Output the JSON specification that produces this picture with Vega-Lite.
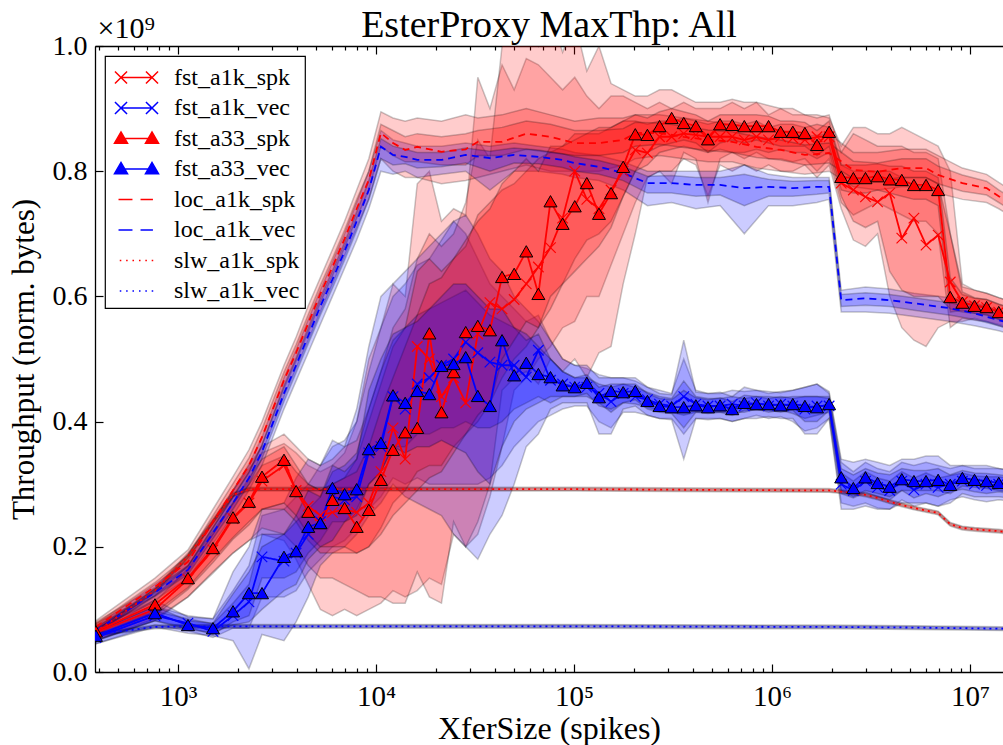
{
"$schema": "https://vega.github.io/schema/vega-lite/v6.json",
"width": 908, "height": 626,
"autosize": {"type": "none"},
"padding": {"left": 95, "top": 46, "right": 0, "bottom": 73},
"background": "white",
"title": {"text": "EsterProxy MaxThp: All", "fontSize": 38, "font": "Liberation Serif", "fontWeight": "normal", "color": "black", "offset": 0, "dy": 32},
"config": {
  "view": {"stroke": null},
  "font": "Liberation Serif",
  "axis": {"domainColor": "black", "tickColor": "black", "labelColor": "black", "titleColor": "black", "grid": false, "labelFont": "Liberation Serif", "titleFont": "Liberation Serif", "titleFontWeight": "normal", "domainWidth": 1.3, "tickWidth": 1.2, "zindex": 1, "labelFlush": false},
  "legend": {"orient": "top-left", "offset": 10, "padding": 5, "strokeColor": "black", "strokeWidth": 1.2, "fillColor": "white", "labelFont": "Liberation Serif", "labelFontSize": 24, "labelColor": "black", "symbolSize": 961, "symbolStrokeWidth": 1.5, "symbolOffset": 10, "labelOffset": 21, "rowPadding": 1.5, "cornerRadius": 0}
},
"data": {"values": [
{"s":"fst_a1k_spk","x":385,"y":0.063,"a":0.05,"b":0.078,"c":0.056,"d":0.07},
{"s":"fst_a1k_spk","x":765,"y":0.1,"a":0.082,"b":0.125,"c":0.09,"d":0.112},
{"s":"fst_a1k_spk","x":1123,"y":0.148,"a":0.12,"b":0.182,"c":0.132,"d":0.165},
{"s":"fst_a1k_spk","x":1502,"y":0.195,"a":0.158,"b":0.24,"c":0.175,"d":0.22},
{"s":"fst_a1k_spk","x":1896,"y":0.245,"a":0.19,"b":0.29,"c":0.212,"d":0.27},
{"s":"fst_a1k_spk","x":2283,"y":0.27,"a":0.21,"b":0.325,"c":0.235,"d":0.3},
{"s":"fst_a1k_spk","x":2657,"y":0.305,"a":0.22,"b":0.35,"c":0.26,"d":0.33},
{"s":"fst_a1k_spk","x":3431,"y":0.33,"a":0.21,"b":0.365,"c":0.26,"d":0.345},
{"s":"fst_a1k_spk","x":3950,"y":0.29,"a":0.18,"b":0.35,"c":0.24,"d":0.32},
{"s":"fst_a1k_spk","x":4548,"y":0.265,"a":0.14,"b":0.33,"c":0.21,"d":0.3},
{"s":"fst_a1k_spk","x":5236,"y":0.25,"a":0.1,"b":0.32,"c":0.19,"d":0.29},
{"s":"fst_a1k_spk","x":6028,"y":0.255,"a":0.09,"b":0.33,"c":0.19,"d":0.3},
{"s":"fst_a1k_spk","x":6940,"y":0.26,"a":0.1,"b":0.35,"c":0.19,"d":0.31},
{"s":"fst_a1k_spk","x":7990,"y":0.255,"a":0.09,"b":0.4,"c":0.19,"d":0.34},
{"s":"fst_a1k_spk","x":9199,"y":0.27,"a":0.1,"b":0.5,"c":0.2,"d":0.4},
{"s":"fst_a1k_spk","x":10590,"y":0.32,"a":0.11,"b":0.55,"c":0.23,"d":0.46},
{"s":"fst_a1k_spk","x":12190,"y":0.39,"a":0.13,"b":0.62,"c":0.27,"d":0.52},
{"s":"fst_a1k_spk","x":14040,"y":0.34,"a":0.12,"b":0.6,"c":0.29,"d":0.55},
{"s":"fst_a1k_spk","x":16160,"y":0.52,"a":0.13,"b":0.78,"c":0.32,"d":0.64},
{"s":"fst_a1k_spk","x":18600,"y":0.5,"a":0.15,"b":0.8,"c":0.33,"d":0.66},
{"s":"fst_a1k_spk","x":21420,"y":0.44,"a":0.14,"b":0.72,"c":0.33,"d":0.64},
{"s":"fst_a1k_spk","x":24660,"y":0.47,"a":0.22,"b":0.74,"c":0.36,"d":0.66},
{"s":"fst_a1k_spk","x":28390,"y":0.43,"a":0.2,"b":0.73,"c":0.38,"d":0.68},
{"s":"fst_a1k_spk","x":32680,"y":0.54,"a":0.22,"b":0.95,"c":0.4,"d":0.73},
{"s":"fst_a1k_spk","x":37630,"y":0.59,"a":0.28,"b":0.9,"c":0.43,"d":0.75},
{"s":"fst_a1k_spk","x":43320,"y":0.58,"a":0.36,"b":0.97,"c":0.47,"d":0.77},
{"s":"fst_a1k_spk","x":49870,"y":0.595,"a":0.45,"b":0.93,"c":0.5,"d":0.78},
{"s":"fst_a1k_spk","x":57420,"y":0.62,"a":0.47,"b":0.98,"c":0.52,"d":0.8},
{"s":"fst_a1k_spk","x":66100,"y":0.647,"a":0.5,"b":0.97,"c":0.55,"d":0.82},
{"s":"fst_a1k_spk","x":76100,"y":0.678,"a":0.52,"b":0.95,"c":0.58,"d":0.83},
{"s":"fst_a1k_spk","x":87620,"y":0.725,"a":0.55,"b":0.93,"c":0.62,"d":0.84},
{"s":"fst_a1k_spk","x":100900,"y":0.8,"a":0.56,"b":0.95,"c":0.66,"d":0.86},
{"s":"fst_a1k_spk","x":116100,"y":0.755,"a":0.6,"b":0.92,"c":0.69,"d":0.86},
{"s":"fst_a1k_spk","x":133700,"y":0.74,"a":0.6,"b":0.9,"c":0.7,"d":0.86},
{"s":"fst_a1k_spk","x":153900,"y":0.77,"a":0.65,"b":0.92,"c":0.72,"d":0.87},
{"s":"fst_a1k_spk","x":177200,"y":0.8,"a":0.7,"b":0.92,"c":0.76,"d":0.88},
{"s":"fst_a1k_spk","x":204000,"y":0.834,"a":0.75,"b":0.91,"c":0.8,"d":0.88},
{"s":"fst_a1k_spk","x":234900,"y":0.829,"a":0.79,"b":0.9,"c":0.81,"d":0.875},
{"s":"fst_a1k_spk","x":270400,"y":0.855,"a":0.8,"b":0.91,"c":0.83,"d":0.88},
{"s":"fst_a1k_spk","x":311300,"y":0.855,"a":0.8,"b":0.9,"c":0.835,"d":0.88},
{"s":"fst_a1k_spk","x":358400,"y":0.86,"a":0.82,"b":0.91,"c":0.84,"d":0.885},
{"s":"fst_a1k_spk","x":412600,"y":0.858,"a":0.81,"b":0.9,"c":0.835,"d":0.88},
{"s":"fst_a1k_spk","x":475100,"y":0.855,"a":0.76,"b":0.9,"c":0.83,"d":0.875},
{"s":"fst_a1k_spk","x":546900,"y":0.855,"a":0.81,"b":0.9,"c":0.835,"d":0.88},
{"s":"fst_a1k_spk","x":629700,"y":0.855,"a":0.8,"b":0.91,"c":0.83,"d":0.88},
{"s":"fst_a1k_spk","x":724900,"y":0.85,"a":0.81,"b":0.9,"c":0.83,"d":0.875},
{"s":"fst_a1k_spk","x":834600,"y":0.855,"a":0.8,"b":0.91,"c":0.835,"d":0.88},
{"s":"fst_a1k_spk","x":960900,"y":0.85,"a":0.81,"b":0.89,"c":0.83,"d":0.87},
{"s":"fst_a1k_spk","x":1106000,"y":0.855,"a":0.8,"b":0.9,"c":0.835,"d":0.875},
{"s":"fst_a1k_spk","x":1274000,"y":0.853,"a":0.8,"b":0.89,"c":0.83,"d":0.875},
{"s":"fst_a1k_spk","x":1466000,"y":0.85,"a":0.81,"b":0.89,"c":0.83,"d":0.87},
{"s":"fst_a1k_spk","x":1688000,"y":0.855,"a":0.79,"b":0.89,"c":0.82,"d":0.875},
{"s":"fst_a1k_spk","x":1943000,"y":0.855,"a":0.81,"b":0.885,"c":0.83,"d":0.87},
{"s":"fst_a1k_spk","x":2237000,"y":0.781,"a":0.74,"b":0.84,"c":0.76,"d":0.81},
{"s":"fst_a1k_spk","x":2576000,"y":0.77,"a":0.69,"b":0.87,"c":0.72,"d":0.8},
{"s":"fst_a1k_spk","x":2966000,"y":0.759,"a":0.68,"b":0.87,"c":0.71,"d":0.8},
{"s":"fst_a1k_spk","x":3414000,"y":0.751,"a":0.7,"b":0.86,"c":0.72,"d":0.8},
{"s":"fst_a1k_spk","x":3931000,"y":0.765,"a":0.6,"b":0.86,"c":0.64,"d":0.8},
{"s":"fst_a1k_spk","x":4525000,"y":0.693,"a":0.55,"b":0.87,"c":0.61,"d":0.79},
{"s":"fst_a1k_spk","x":5210000,"y":0.725,"a":0.53,"b":0.86,"c":0.6,"d":0.79},
{"s":"fst_a1k_spk","x":5998000,"y":0.682,"a":0.52,"b":0.85,"c":0.6,"d":0.79},
{"s":"fst_a1k_spk","x":6905000,"y":0.698,"a":0.55,"b":0.84,"c":0.6,"d":0.78},
{"s":"fst_a1k_spk","x":7950000,"y":0.623,"a":0.56,"b":0.8,"c":0.58,"d":0.7},
{"s":"fst_a1k_spk","x":9153000,"y":0.591,"a":0.56,"b":0.62,"c":0.575,"d":0.607},
{"s":"fst_a1k_spk","x":10540000,"y":0.585,"a":0.565,"b":0.61,"c":0.573,"d":0.598},
{"s":"fst_a1k_spk","x":12130000,"y":0.582,"a":0.56,"b":0.605,"c":0.57,"d":0.595},
{"s":"fst_a1k_spk","x":13970000,"y":0.575,"a":0.555,"b":0.598,"c":0.563,"d":0.588},
{"s":"fst_a1k_spk","x":16080000,"y":0.57,"a":0.55,"b":0.592,"c":0.558,"d":0.582},
{"s":"fst_a1k_vec","x":385,"y":0.055,"a":0.045,"b":0.066,"c":0.05,"d":0.06},
{"s":"fst_a1k_vec","x":765,"y":0.09,"a":0.075,"b":0.105,"c":0.082,"d":0.097},
{"s":"fst_a1k_vec","x":1123,"y":0.078,"a":0.066,"b":0.09,"c":0.071,"d":0.085},
{"s":"fst_a1k_vec","x":1502,"y":0.065,"a":0.055,"b":0.085,"c":0.06,"d":0.077},
{"s":"fst_a1k_vec","x":1896,"y":0.09,"a":0.07,"b":0.13,"c":0.08,"d":0.11},
{"s":"fst_a1k_vec","x":2283,"y":0.112,"a":0.07,"b":0.17,"c":0.09,"d":0.14},
{"s":"fst_a1k_vec","x":2657,"y":0.184,"a":0.12,"b":0.25,"c":0.15,"d":0.22},
{"s":"fst_a1k_vec","x":3431,"y":0.177,"a":0.12,"b":0.26,"c":0.15,"d":0.22},
{"s":"fst_a1k_vec","x":3950,"y":0.19,"a":0.13,"b":0.28,"c":0.16,"d":0.24},
{"s":"fst_a1k_vec","x":4548,"y":0.22,"a":0.16,"b":0.3,"c":0.19,"d":0.26},
{"s":"fst_a1k_vec","x":5236,"y":0.24,"a":0.18,"b":0.33,"c":0.21,"d":0.28},
{"s":"fst_a1k_vec","x":6028,"y":0.28,"a":0.2,"b":0.36,"c":0.24,"d":0.32},
{"s":"fst_a1k_vec","x":6940,"y":0.275,"a":0.21,"b":0.37,"c":0.24,"d":0.33},
{"s":"fst_a1k_vec","x":7990,"y":0.28,"a":0.23,"b":0.4,"c":0.26,"d":0.35},
{"s":"fst_a1k_vec","x":9199,"y":0.35,"a":0.26,"b":0.48,"c":0.3,"d":0.42},
{"s":"fst_a1k_vec","x":10590,"y":0.36,"a":0.28,"b":0.55,"c":0.32,"d":0.48},
{"s":"fst_a1k_vec","x":12190,"y":0.44,"a":0.31,"b":0.6,"c":0.36,"d":0.53},
{"s":"fst_a1k_vec","x":14040,"y":0.42,"a":0.3,"b":0.62,"c":0.36,"d":0.55},
{"s":"fst_a1k_vec","x":16160,"y":0.46,"a":0.31,"b":0.65,"c":0.38,"d":0.57},
{"s":"fst_a1k_vec","x":18600,"y":0.47,"a":0.3,"b":0.66,"c":0.38,"d":0.58},
{"s":"fst_a1k_vec","x":21420,"y":0.49,"a":0.3,"b":0.69,"c":0.39,"d":0.59},
{"s":"fst_a1k_vec","x":24660,"y":0.5,"a":0.3,"b":0.72,"c":0.39,"d":0.6},
{"s":"fst_a1k_vec","x":28390,"y":0.527,"a":0.3,"b":0.7,"c":0.4,"d":0.61},
{"s":"fst_a1k_vec","x":32680,"y":0.51,"a":0.3,"b":0.66,"c":0.39,"d":0.59},
{"s":"fst_a1k_vec","x":37630,"y":0.495,"a":0.31,"b":0.62,"c":0.39,"d":0.57},
{"s":"fst_a1k_vec","x":43320,"y":0.49,"a":0.33,"b":0.6,"c":0.4,"d":0.56},
{"s":"fst_a1k_vec","x":49870,"y":0.49,"a":0.36,"b":0.58,"c":0.42,"d":0.55},
{"s":"fst_a1k_vec","x":57420,"y":0.471,"a":0.38,"b":0.56,"c":0.43,"d":0.53},
{"s":"fst_a1k_vec","x":66100,"y":0.514,"a":0.4,"b":0.57,"c":0.44,"d":0.54},
{"s":"fst_a1k_vec","x":76100,"y":0.466,"a":0.41,"b":0.53,"c":0.43,"d":0.5},
{"s":"fst_a1k_vec","x":87620,"y":0.46,"a":0.42,"b":0.5,"c":0.44,"d":0.48},
{"s":"fst_a1k_vec","x":100900,"y":0.455,"a":0.425,"b":0.49,"c":0.44,"d":0.47},
{"s":"fst_a1k_vec","x":116100,"y":0.455,"a":0.425,"b":0.485,"c":0.44,"d":0.47},
{"s":"fst_a1k_vec","x":133700,"y":0.445,"a":0.4,"b":0.475,"c":0.43,"d":0.46},
{"s":"fst_a1k_vec","x":153900,"y":0.432,"a":0.39,"b":0.47,"c":0.415,"d":0.455},
{"s":"fst_a1k_vec","x":177200,"y":0.445,"a":0.415,"b":0.47,"c":0.43,"d":0.46},
{"s":"fst_a1k_vec","x":204000,"y":0.44,"a":0.415,"b":0.465,"c":0.428,"d":0.455},
{"s":"fst_a1k_vec","x":234900,"y":0.435,"a":0.41,"b":0.455,"c":0.423,"d":0.447},
{"s":"fst_a1k_vec","x":270400,"y":0.428,"a":0.405,"b":0.45,"c":0.418,"d":0.44},
{"s":"fst_a1k_vec","x":311300,"y":0.425,"a":0.405,"b":0.445,"c":0.415,"d":0.437},
{"s":"fst_a1k_vec","x":358400,"y":0.44,"a":0.38,"b":0.5,"c":0.41,"d":0.465},
{"s":"fst_a1k_vec","x":412600,"y":0.428,"a":0.405,"b":0.45,"c":0.415,"d":0.44},
{"s":"fst_a1k_vec","x":475100,"y":0.425,"a":0.405,"b":0.445,"c":0.415,"d":0.437},
{"s":"fst_a1k_vec","x":546900,"y":0.425,"a":0.405,"b":0.445,"c":0.415,"d":0.437},
{"s":"fst_a1k_vec","x":629700,"y":0.428,"a":0.4,"b":0.45,"c":0.415,"d":0.44},
{"s":"fst_a1k_vec","x":724900,"y":0.425,"a":0.405,"b":0.448,"c":0.415,"d":0.437},
{"s":"fst_a1k_vec","x":834600,"y":0.43,"a":0.41,"b":0.45,"c":0.42,"d":0.44},
{"s":"fst_a1k_vec","x":960900,"y":0.425,"a":0.405,"b":0.445,"c":0.415,"d":0.437},
{"s":"fst_a1k_vec","x":1106000,"y":0.428,"a":0.408,"b":0.448,"c":0.418,"d":0.44},
{"s":"fst_a1k_vec","x":1274000,"y":0.425,"a":0.4,"b":0.45,"c":0.413,"d":0.437},
{"s":"fst_a1k_vec","x":1466000,"y":0.42,"a":0.385,"b":0.455,"c":0.405,"d":0.44},
{"s":"fst_a1k_vec","x":1688000,"y":0.425,"a":0.39,"b":0.46,"c":0.41,"d":0.44},
{"s":"fst_a1k_vec","x":1943000,"y":0.425,"a":0.405,"b":0.445,"c":0.415,"d":0.437},
{"s":"fst_a1k_vec","x":2237000,"y":0.3,"a":0.27,"b":0.335,"c":0.285,"d":0.318},
{"s":"fst_a1k_vec","x":2576000,"y":0.29,"a":0.265,"b":0.32,"c":0.278,"d":0.305},
{"s":"fst_a1k_vec","x":2966000,"y":0.305,"a":0.27,"b":0.335,"c":0.287,"d":0.32},
{"s":"fst_a1k_vec","x":3414000,"y":0.295,"a":0.262,"b":0.325,"c":0.28,"d":0.31},
{"s":"fst_a1k_vec","x":3931000,"y":0.29,"a":0.26,"b":0.32,"c":0.275,"d":0.305},
{"s":"fst_a1k_vec","x":4525000,"y":0.305,"a":0.275,"b":0.335,"c":0.29,"d":0.32},
{"s":"fst_a1k_vec","x":5210000,"y":0.291,"a":0.265,"b":0.33,"c":0.278,"d":0.31},
{"s":"fst_a1k_vec","x":5998000,"y":0.3,"a":0.27,"b":0.335,"c":0.285,"d":0.318},
{"s":"fst_a1k_vec","x":6905000,"y":0.295,"a":0.265,"b":0.33,"c":0.28,"d":0.31},
{"s":"fst_a1k_vec","x":7950000,"y":0.3,"a":0.275,"b":0.325,"c":0.288,"d":0.314},
{"s":"fst_a1k_vec","x":9153000,"y":0.305,"a":0.28,"b":0.33,"c":0.292,"d":0.318},
{"s":"fst_a1k_vec","x":10540000,"y":0.3,"a":0.275,"b":0.325,"c":0.288,"d":0.313},
{"s":"fst_a1k_vec","x":12130000,"y":0.298,"a":0.272,"b":0.325,"c":0.285,"d":0.312},
{"s":"fst_a1k_vec","x":13970000,"y":0.3,"a":0.275,"b":0.325,"c":0.288,"d":0.312},
{"s":"fst_a1k_vec","x":16080000,"y":0.298,"a":0.273,"b":0.322,"c":0.285,"d":0.31},
{"s":"fst_a33_spk","x":385,"y":0.065,"a":0.05,"b":0.08,"c":0.057,"d":0.073},
{"s":"fst_a33_spk","x":765,"y":0.108,"a":0.085,"b":0.135,"c":0.095,"d":0.122},
{"s":"fst_a33_spk","x":1123,"y":0.15,"a":0.12,"b":0.19,"c":0.135,"d":0.17},
{"s":"fst_a33_spk","x":1502,"y":0.198,"a":0.16,"b":0.245,"c":0.18,"d":0.225},
{"s":"fst_a33_spk","x":1896,"y":0.247,"a":0.19,"b":0.29,"c":0.215,"d":0.27},
{"s":"fst_a33_spk","x":2283,"y":0.272,"a":0.21,"b":0.33,"c":0.24,"d":0.31},
{"s":"fst_a33_spk","x":2657,"y":0.312,"a":0.23,"b":0.36,"c":0.26,"d":0.34},
{"s":"fst_a33_spk","x":3431,"y":0.339,"a":0.22,"b":0.38,"c":0.27,"d":0.36},
{"s":"fst_a33_spk","x":3950,"y":0.289,"a":0.2,"b":0.36,"c":0.25,"d":0.33},
{"s":"fst_a33_spk","x":4548,"y":0.256,"a":0.17,"b":0.34,"c":0.22,"d":0.3},
{"s":"fst_a33_spk","x":5236,"y":0.238,"a":0.15,"b":0.33,"c":0.2,"d":0.29},
{"s":"fst_a33_spk","x":6028,"y":0.275,"a":0.15,"b":0.34,"c":0.2,"d":0.3},
{"s":"fst_a33_spk","x":6940,"y":0.262,"a":0.14,"b":0.36,"c":0.2,"d":0.31},
{"s":"fst_a33_spk","x":7990,"y":0.232,"a":0.13,"b":0.37,"c":0.19,"d":0.32},
{"s":"fst_a33_spk","x":9199,"y":0.259,"a":0.12,"b":0.42,"c":0.2,"d":0.36},
{"s":"fst_a33_spk","x":10590,"y":0.307,"a":0.12,"b":0.48,"c":0.22,"d":0.42},
{"s":"fst_a33_spk","x":12190,"y":0.355,"a":0.11,"b":0.55,"c":0.25,"d":0.47},
{"s":"fst_a33_spk","x":14040,"y":0.383,"a":0.11,"b":0.58,"c":0.27,"d":0.52},
{"s":"fst_a33_spk","x":16160,"y":0.39,"a":0.16,"b":0.66,"c":0.29,"d":0.57},
{"s":"fst_a33_spk","x":18600,"y":0.541,"a":0.12,"b":0.7,"c":0.31,"d":0.62},
{"s":"fst_a33_spk","x":21420,"y":0.415,"a":0.11,"b":0.68,"c":0.32,"d":0.63},
{"s":"fst_a33_spk","x":24660,"y":0.479,"a":0.24,"b":0.7,"c":0.35,"d":0.66},
{"s":"fst_a33_spk","x":28390,"y":0.543,"a":0.2,"b":0.75,"c":0.38,"d":0.69},
{"s":"fst_a33_spk","x":32680,"y":0.553,"a":0.24,"b":0.85,"c":0.41,"d":0.72},
{"s":"fst_a33_spk","x":37630,"y":0.546,"a":0.3,"b":0.82,"c":0.43,"d":0.74},
{"s":"fst_a33_spk","x":43320,"y":0.631,"a":0.45,"b":1.0,"c":0.5,"d":0.78},
{"s":"fst_a33_spk","x":49870,"y":0.636,"a":0.47,"b":1.05,"c":0.53,"d":0.8},
{"s":"fst_a33_spk","x":57420,"y":0.672,"a":0.48,"b":1.05,"c":0.56,"d":0.82},
{"s":"fst_a33_spk","x":66100,"y":0.604,"a":0.46,"b":1.0,"c":0.55,"d":0.8},
{"s":"fst_a33_spk","x":76100,"y":0.752,"a":0.5,"b":1.05,"c":0.6,"d":0.84},
{"s":"fst_a33_spk","x":87620,"y":0.716,"a":0.48,"b":0.99,"c":0.62,"d":0.84},
{"s":"fst_a33_spk","x":100900,"y":0.744,"a":0.5,"b":1.04,"c":0.64,"d":0.85},
{"s":"fst_a33_spk","x":116100,"y":0.781,"a":0.47,"b":0.96,"c":0.66,"d":0.86},
{"s":"fst_a33_spk","x":133700,"y":0.732,"a":0.51,"b":1.0,"c":0.68,"d":0.87},
{"s":"fst_a33_spk","x":153900,"y":0.765,"a":0.52,"b":0.94,"c":0.71,"d":0.87},
{"s":"fst_a33_spk","x":177200,"y":0.807,"a":0.62,"b":0.93,"c":0.76,"d":0.88},
{"s":"fst_a33_spk","x":204000,"y":0.859,"a":0.7,"b":0.92,"c":0.8,"d":0.89},
{"s":"fst_a33_spk","x":234900,"y":0.858,"a":0.79,"b":0.92,"c":0.83,"d":0.885},
{"s":"fst_a33_spk","x":270400,"y":0.872,"a":0.8,"b":0.93,"c":0.84,"d":0.895},
{"s":"fst_a33_spk","x":311300,"y":0.885,"a":0.78,"b":0.93,"c":0.845,"d":0.9},
{"s":"fst_a33_spk","x":358400,"y":0.877,"a":0.83,"b":0.92,"c":0.85,"d":0.895},
{"s":"fst_a33_spk","x":412600,"y":0.872,"a":0.82,"b":0.91,"c":0.845,"d":0.89},
{"s":"fst_a33_spk","x":475100,"y":0.851,"a":0.75,"b":0.91,"c":0.83,"d":0.88},
{"s":"fst_a33_spk","x":546900,"y":0.875,"a":0.82,"b":0.91,"c":0.845,"d":0.89},
{"s":"fst_a33_spk","x":629700,"y":0.874,"a":0.83,"b":0.915,"c":0.85,"d":0.89},
{"s":"fst_a33_spk","x":724900,"y":0.872,"a":0.82,"b":0.91,"c":0.845,"d":0.89},
{"s":"fst_a33_spk","x":834600,"y":0.872,"a":0.83,"b":0.91,"c":0.85,"d":0.89},
{"s":"fst_a33_spk","x":960900,"y":0.872,"a":0.82,"b":0.905,"c":0.845,"d":0.888},
{"s":"fst_a33_spk","x":1106000,"y":0.863,"a":0.82,"b":0.9,"c":0.84,"d":0.88},
{"s":"fst_a33_spk","x":1274000,"y":0.863,"a":0.815,"b":0.9,"c":0.84,"d":0.88},
{"s":"fst_a33_spk","x":1466000,"y":0.861,"a":0.82,"b":0.89,"c":0.84,"d":0.878},
{"s":"fst_a33_spk","x":1688000,"y":0.842,"a":0.8,"b":0.885,"c":0.825,"d":0.865},
{"s":"fst_a33_spk","x":1943000,"y":0.863,"a":0.82,"b":0.89,"c":0.84,"d":0.88},
{"s":"fst_a33_spk","x":2237000,"y":0.791,"a":0.75,"b":0.83,"c":0.77,"d":0.81},
{"s":"fst_a33_spk","x":2576000,"y":0.789,"a":0.73,"b":0.86,"c":0.765,"d":0.81},
{"s":"fst_a33_spk","x":2966000,"y":0.789,"a":0.74,"b":0.85,"c":0.765,"d":0.81},
{"s":"fst_a33_spk","x":3414000,"y":0.792,"a":0.75,"b":0.84,"c":0.77,"d":0.812},
{"s":"fst_a33_spk","x":3931000,"y":0.787,"a":0.74,"b":0.84,"c":0.765,"d":0.808},
{"s":"fst_a33_spk","x":4525000,"y":0.786,"a":0.73,"b":0.84,"c":0.76,"d":0.808},
{"s":"fst_a33_spk","x":5210000,"y":0.778,"a":0.72,"b":0.83,"c":0.755,"d":0.8},
{"s":"fst_a33_spk","x":5998000,"y":0.778,"a":0.72,"b":0.83,"c":0.755,"d":0.8},
{"s":"fst_a33_spk","x":6905000,"y":0.77,"a":0.7,"b":0.82,"c":0.745,"d":0.79},
{"s":"fst_a33_spk","x":7950000,"y":0.599,"a":0.55,"b":0.7,"c":0.575,"d":0.63},
{"s":"fst_a33_spk","x":9153000,"y":0.59,"a":0.565,"b":0.615,"c":0.578,"d":0.603},
{"s":"fst_a33_spk","x":10540000,"y":0.585,"a":0.562,"b":0.61,"c":0.573,"d":0.597},
{"s":"fst_a33_spk","x":12130000,"y":0.583,"a":0.56,"b":0.605,"c":0.571,"d":0.595},
{"s":"fst_a33_spk","x":13970000,"y":0.575,"a":0.553,"b":0.598,"c":0.564,"d":0.587},
{"s":"fst_a33_spk","x":16080000,"y":0.57,"a":0.548,"b":0.592,"c":0.559,"d":0.581},
{"s":"fst_a33_vec","x":385,"y":0.058,"a":0.045,"b":0.07,"c":0.051,"d":0.064},
{"s":"fst_a33_vec","x":765,"y":0.094,"a":0.072,"b":0.115,"c":0.082,"d":0.105},
{"s":"fst_a33_vec","x":1123,"y":0.075,"a":0.062,"b":0.088,"c":0.068,"d":0.082},
{"s":"fst_a33_vec","x":1502,"y":0.07,"a":0.058,"b":0.085,"c":0.063,"d":0.078},
{"s":"fst_a33_vec","x":1896,"y":0.097,"a":0.05,"b":0.16,"c":0.075,"d":0.125},
{"s":"fst_a33_vec","x":2283,"y":0.126,"a":0.005,"b":0.2,"c":0.08,"d":0.16},
{"s":"fst_a33_vec","x":2657,"y":0.126,"a":0.06,"b":0.26,"c":0.1,"d":0.2},
{"s":"fst_a33_vec","x":3431,"y":0.184,"a":0.05,"b":0.27,"c":0.13,"d":0.22},
{"s":"fst_a33_vec","x":3950,"y":0.193,"a":0.08,"b":0.31,"c":0.14,"d":0.25},
{"s":"fst_a33_vec","x":4548,"y":0.232,"a":0.12,"b":0.34,"c":0.18,"d":0.29},
{"s":"fst_a33_vec","x":5236,"y":0.238,"a":0.17,"b":0.33,"c":0.2,"d":0.28},
{"s":"fst_a33_vec","x":6028,"y":0.294,"a":0.19,"b":0.37,"c":0.21,"d":0.33},
{"s":"fst_a33_vec","x":6940,"y":0.284,"a":0.2,"b":0.36,"c":0.24,"d":0.32},
{"s":"fst_a33_vec","x":7990,"y":0.292,"a":0.22,"b":0.42,"c":0.25,"d":0.34},
{"s":"fst_a33_vec","x":9199,"y":0.356,"a":0.25,"b":0.52,"c":0.3,"d":0.45},
{"s":"fst_a33_vec","x":10590,"y":0.366,"a":0.27,"b":0.6,"c":0.32,"d":0.5},
{"s":"fst_a33_vec","x":12190,"y":0.442,"a":0.3,"b":0.62,"c":0.36,"d":0.54},
{"s":"fst_a33_vec","x":14040,"y":0.43,"a":0.28,"b":0.64,"c":0.35,"d":0.55},
{"s":"fst_a33_vec","x":16160,"y":0.449,"a":0.27,"b":0.66,"c":0.36,"d":0.56},
{"s":"fst_a33_vec","x":18600,"y":0.444,"a":0.26,"b":0.68,"c":0.36,"d":0.58},
{"s":"fst_a33_vec","x":21420,"y":0.489,"a":0.25,"b":0.7,"c":0.37,"d":0.6},
{"s":"fst_a33_vec","x":24660,"y":0.492,"a":0.22,"b":0.72,"c":0.36,"d":0.62},
{"s":"fst_a33_vec","x":28390,"y":0.503,"a":0.2,"b":0.73,"c":0.35,"d":0.62},
{"s":"fst_a33_vec","x":32680,"y":0.441,"a":0.18,"b":0.7,"c":0.32,"d":0.6},
{"s":"fst_a33_vec","x":37630,"y":0.425,"a":0.22,"b":0.66,"c":0.3,"d":0.58},
{"s":"fst_a33_vec","x":43320,"y":0.53,"a":0.25,"b":0.64,"c":0.36,"d":0.58},
{"s":"fst_a33_vec","x":49870,"y":0.474,"a":0.3,"b":0.6,"c":0.4,"d":0.55},
{"s":"fst_a33_vec","x":57420,"y":0.494,"a":0.36,"b":0.58,"c":0.42,"d":0.54},
{"s":"fst_a33_vec","x":66100,"y":0.476,"a":0.38,"b":0.56,"c":0.43,"d":0.52},
{"s":"fst_a33_vec","x":76100,"y":0.471,"a":0.42,"b":0.53,"c":0.44,"d":0.5},
{"s":"fst_a33_vec","x":87620,"y":0.458,"a":0.43,"b":0.5,"c":0.44,"d":0.48},
{"s":"fst_a33_vec","x":100900,"y":0.455,"a":0.43,"b":0.49,"c":0.44,"d":0.47},
{"s":"fst_a33_vec","x":116100,"y":0.462,"a":0.43,"b":0.49,"c":0.445,"d":0.475},
{"s":"fst_a33_vec","x":133700,"y":0.439,"a":0.38,"b":0.47,"c":0.425,"d":0.455},
{"s":"fst_a33_vec","x":153900,"y":0.449,"a":0.38,"b":0.47,"c":0.42,"d":0.46},
{"s":"fst_a33_vec","x":177200,"y":0.447,"a":0.42,"b":0.47,"c":0.43,"d":0.46},
{"s":"fst_a33_vec","x":204000,"y":0.449,"a":0.425,"b":0.47,"c":0.435,"d":0.46},
{"s":"fst_a33_vec","x":234900,"y":0.433,"a":0.41,"b":0.455,"c":0.42,"d":0.445},
{"s":"fst_a33_vec","x":270400,"y":0.425,"a":0.405,"b":0.445,"c":0.415,"d":0.437},
{"s":"fst_a33_vec","x":311300,"y":0.423,"a":0.403,"b":0.443,"c":0.413,"d":0.435},
{"s":"fst_a33_vec","x":358400,"y":0.423,"a":0.34,"b":0.53,"c":0.39,"d":0.45},
{"s":"fst_a33_vec","x":412600,"y":0.426,"a":0.405,"b":0.447,"c":0.415,"d":0.438},
{"s":"fst_a33_vec","x":475100,"y":0.423,"a":0.403,"b":0.445,"c":0.413,"d":0.435},
{"s":"fst_a33_vec","x":546900,"y":0.426,"a":0.405,"b":0.447,"c":0.415,"d":0.438},
{"s":"fst_a33_vec","x":629700,"y":0.42,"a":0.4,"b":0.44,"c":0.41,"d":0.432},
{"s":"fst_a33_vec","x":724900,"y":0.43,"a":0.405,"b":0.455,"c":0.418,"d":0.442},
{"s":"fst_a33_vec","x":834600,"y":0.428,"a":0.405,"b":0.45,"c":0.418,"d":0.44},
{"s":"fst_a33_vec","x":960900,"y":0.428,"a":0.408,"b":0.448,"c":0.418,"d":0.44},
{"s":"fst_a33_vec","x":1106000,"y":0.426,"a":0.405,"b":0.446,"c":0.415,"d":0.438},
{"s":"fst_a33_vec","x":1274000,"y":0.428,"a":0.405,"b":0.45,"c":0.418,"d":0.44},
{"s":"fst_a33_vec","x":1466000,"y":0.425,"a":0.38,"b":0.455,"c":0.4,"d":0.44},
{"s":"fst_a33_vec","x":1688000,"y":0.423,"a":0.38,"b":0.46,"c":0.4,"d":0.44},
{"s":"fst_a33_vec","x":1943000,"y":0.428,"a":0.405,"b":0.448,"c":0.418,"d":0.44},
{"s":"fst_a33_vec","x":2237000,"y":0.311,"a":0.26,"b":0.34,"c":0.29,"d":0.325},
{"s":"fst_a33_vec","x":2576000,"y":0.294,"a":0.26,"b":0.335,"c":0.28,"d":0.315},
{"s":"fst_a33_vec","x":2966000,"y":0.311,"a":0.265,"b":0.34,"c":0.29,"d":0.325},
{"s":"fst_a33_vec","x":3414000,"y":0.302,"a":0.26,"b":0.335,"c":0.285,"d":0.318},
{"s":"fst_a33_vec","x":3931000,"y":0.296,"a":0.26,"b":0.33,"c":0.28,"d":0.315},
{"s":"fst_a33_vec","x":4525000,"y":0.308,"a":0.27,"b":0.34,"c":0.29,"d":0.325},
{"s":"fst_a33_vec","x":5210000,"y":0.305,"a":0.27,"b":0.34,"c":0.29,"d":0.322},
{"s":"fst_a33_vec","x":5998000,"y":0.305,"a":0.27,"b":0.345,"c":0.29,"d":0.322},
{"s":"fst_a33_vec","x":6905000,"y":0.307,"a":0.265,"b":0.345,"c":0.29,"d":0.325},
{"s":"fst_a33_vec","x":7950000,"y":0.299,"a":0.27,"b":0.33,"c":0.285,"d":0.315},
{"s":"fst_a33_vec","x":9153000,"y":0.31,"a":0.285,"b":0.33,"c":0.297,"d":0.322},
{"s":"fst_a33_vec","x":10540000,"y":0.307,"a":0.28,"b":0.33,"c":0.295,"d":0.318},
{"s":"fst_a33_vec","x":12130000,"y":0.305,"a":0.28,"b":0.33,"c":0.293,"d":0.317},
{"s":"fst_a33_vec","x":13970000,"y":0.302,"a":0.28,"b":0.325,"c":0.29,"d":0.315},
{"s":"fst_a33_vec","x":16080000,"y":0.3,"a":0.278,"b":0.323,"c":0.288,"d":0.313},
{"s":"loc_a1k_spk","x":385,"y":0.072,"a":0.062,"b":0.082,"c":0.067,"d":0.077},
{"s":"loc_a1k_spk","x":765,"y":0.136,"a":0.122,"b":0.15,"c":0.129,"d":0.143},
{"s":"loc_a1k_spk","x":1123,"y":0.176,"a":0.16,"b":0.195,"c":0.168,"d":0.186},
{"s":"loc_a1k_spk","x":1502,"y":0.24,"a":0.22,"b":0.26,"c":0.23,"d":0.25},
{"s":"loc_a1k_spk","x":1896,"y":0.29,"a":0.268,"b":0.312,"c":0.279,"d":0.301},
{"s":"loc_a1k_spk","x":2283,"y":0.33,"a":0.305,"b":0.355,"c":0.318,"d":0.342},
{"s":"loc_a1k_spk","x":2657,"y":0.375,"a":0.35,"b":0.4,"c":0.362,"d":0.388},
{"s":"loc_a1k_spk","x":3431,"y":0.466,"a":0.44,"b":0.49,"c":0.453,"d":0.479},
{"s":"loc_a1k_spk","x":3950,"y":0.51,"a":0.485,"b":0.535,"c":0.497,"d":0.523},
{"s":"loc_a1k_spk","x":4548,"y":0.557,"a":0.53,"b":0.585,"c":0.543,"d":0.571},
{"s":"loc_a1k_spk","x":5236,"y":0.604,"a":0.575,"b":0.63,"c":0.59,"d":0.618},
{"s":"loc_a1k_spk","x":6028,"y":0.647,"a":0.62,"b":0.675,"c":0.633,"d":0.661},
{"s":"loc_a1k_spk","x":6940,"y":0.692,"a":0.665,"b":0.72,"c":0.678,"d":0.706},
{"s":"loc_a1k_spk","x":7990,"y":0.74,"a":0.71,"b":0.77,"c":0.725,"d":0.755},
{"s":"loc_a1k_spk","x":9199,"y":0.786,"a":0.755,"b":0.82,"c":0.77,"d":0.8},
{"s":"loc_a1k_spk","x":10590,"y":0.861,"a":0.82,"b":0.895,"c":0.84,"d":0.875},
{"s":"loc_a1k_spk","x":12190,"y":0.845,"a":0.8,"b":0.885,"c":0.825,"d":0.865},
{"s":"loc_a1k_spk","x":14040,"y":0.834,"a":0.79,"b":0.88,"c":0.815,"d":0.855},
{"s":"loc_a1k_spk","x":16160,"y":0.839,"a":0.79,"b":0.885,"c":0.815,"d":0.86},
{"s":"loc_a1k_spk","x":21420,"y":0.831,"a":0.78,"b":0.88,"c":0.81,"d":0.855},
{"s":"loc_a1k_spk","x":28390,"y":0.835,"a":0.785,"b":0.89,"c":0.81,"d":0.86},
{"s":"loc_a1k_spk","x":32680,"y":0.847,"a":0.79,"b":0.885,"c":0.825,"d":0.865},
{"s":"loc_a1k_spk","x":43320,"y":0.847,"a":0.8,"b":0.89,"c":0.825,"d":0.87},
{"s":"loc_a1k_spk","x":57420,"y":0.86,"a":0.81,"b":0.9,"c":0.835,"d":0.88},
{"s":"loc_a1k_spk","x":76100,"y":0.855,"a":0.8,"b":0.89,"c":0.83,"d":0.875},
{"s":"loc_a1k_spk","x":100900,"y":0.845,"a":0.8,"b":0.88,"c":0.825,"d":0.865},
{"s":"loc_a1k_spk","x":133700,"y":0.845,"a":0.8,"b":0.885,"c":0.825,"d":0.865},
{"s":"loc_a1k_spk","x":177200,"y":0.85,"a":0.81,"b":0.885,"c":0.83,"d":0.868},
{"s":"loc_a1k_spk","x":204000,"y":0.861,"a":0.82,"b":0.89,"c":0.84,"d":0.878},
{"s":"loc_a1k_spk","x":270400,"y":0.861,"a":0.825,"b":0.89,"c":0.843,"d":0.877},
{"s":"loc_a1k_spk","x":358400,"y":0.855,"a":0.82,"b":0.885,"c":0.838,"d":0.872},
{"s":"loc_a1k_spk","x":475100,"y":0.85,"a":0.815,"b":0.88,"c":0.833,"d":0.866},
{"s":"loc_a1k_spk","x":629700,"y":0.847,"a":0.815,"b":0.875,"c":0.83,"d":0.863},
{"s":"loc_a1k_spk","x":834600,"y":0.839,"a":0.805,"b":0.87,"c":0.822,"d":0.855},
{"s":"loc_a1k_spk","x":1106000,"y":0.834,"a":0.8,"b":0.865,"c":0.818,"d":0.85},
{"s":"loc_a1k_spk","x":1466000,"y":0.826,"a":0.795,"b":0.855,"c":0.81,"d":0.842},
{"s":"loc_a1k_spk","x":1943000,"y":0.829,"a":0.8,"b":0.86,"c":0.813,"d":0.845},
{"s":"loc_a1k_spk","x":2576000,"y":0.802,"a":0.775,"b":0.83,"c":0.788,"d":0.816},
{"s":"loc_a1k_spk","x":3414000,"y":0.799,"a":0.77,"b":0.83,"c":0.785,"d":0.813},
{"s":"loc_a1k_spk","x":4525000,"y":0.805,"a":0.775,"b":0.835,"c":0.79,"d":0.82},
{"s":"loc_a1k_spk","x":5998000,"y":0.805,"a":0.775,"b":0.835,"c":0.79,"d":0.82},
{"s":"loc_a1k_spk","x":6905000,"y":0.794,"a":0.765,"b":0.825,"c":0.78,"d":0.808},
{"s":"loc_a1k_spk","x":9153000,"y":0.781,"a":0.755,"b":0.805,"c":0.768,"d":0.794},
{"s":"loc_a1k_spk","x":12130000,"y":0.773,"a":0.75,"b":0.795,"c":0.762,"d":0.784},
{"s":"loc_a1k_spk","x":13970000,"y":0.76,"a":0.74,"b":0.782,"c":0.75,"d":0.77},
{"s":"loc_a1k_spk","x":16080000,"y":0.748,"a":0.728,"b":0.77,"c":0.738,"d":0.758},
{"s":"loc_a1k_vec","x":385,"y":0.066,"a":0.058,"b":0.074,"c":0.062,"d":0.07},
{"s":"loc_a1k_vec","x":765,"y":0.127,"a":0.115,"b":0.14,"c":0.121,"d":0.133},
{"s":"loc_a1k_vec","x":1123,"y":0.163,"a":0.15,"b":0.178,"c":0.156,"d":0.17},
{"s":"loc_a1k_vec","x":1502,"y":0.222,"a":0.205,"b":0.24,"c":0.213,"d":0.231},
{"s":"loc_a1k_vec","x":1896,"y":0.27,"a":0.25,"b":0.29,"c":0.26,"d":0.28},
{"s":"loc_a1k_vec","x":2283,"y":0.31,"a":0.29,"b":0.332,"c":0.3,"d":0.32},
{"s":"loc_a1k_vec","x":2657,"y":0.352,"a":0.33,"b":0.375,"c":0.341,"d":0.363},
{"s":"loc_a1k_vec","x":3431,"y":0.445,"a":0.42,"b":0.47,"c":0.432,"d":0.458},
{"s":"loc_a1k_vec","x":3950,"y":0.49,"a":0.465,"b":0.515,"c":0.478,"d":0.502},
{"s":"loc_a1k_vec","x":4548,"y":0.537,"a":0.51,"b":0.563,"c":0.524,"d":0.55},
{"s":"loc_a1k_vec","x":5236,"y":0.584,"a":0.555,"b":0.61,"c":0.57,"d":0.598},
{"s":"loc_a1k_vec","x":6028,"y":0.627,"a":0.6,"b":0.655,"c":0.613,"d":0.641},
{"s":"loc_a1k_vec","x":6940,"y":0.672,"a":0.645,"b":0.7,"c":0.658,"d":0.686},
{"s":"loc_a1k_vec","x":7990,"y":0.72,"a":0.69,"b":0.75,"c":0.705,"d":0.735},
{"s":"loc_a1k_vec","x":9199,"y":0.77,"a":0.74,"b":0.8,"c":0.755,"d":0.785},
{"s":"loc_a1k_vec","x":10590,"y":0.839,"a":0.8,"b":0.865,"c":0.82,"d":0.852},
{"s":"loc_a1k_vec","x":12190,"y":0.826,"a":0.795,"b":0.85,"c":0.81,"d":0.84},
{"s":"loc_a1k_vec","x":14040,"y":0.823,"a":0.8,"b":0.845,"c":0.812,"d":0.835},
{"s":"loc_a1k_vec","x":16160,"y":0.818,"a":0.79,"b":0.84,"c":0.805,"d":0.83},
{"s":"loc_a1k_vec","x":21420,"y":0.818,"a":0.795,"b":0.84,"c":0.807,"d":0.83},
{"s":"loc_a1k_vec","x":28390,"y":0.826,"a":0.8,"b":0.845,"c":0.813,"d":0.837},
{"s":"loc_a1k_vec","x":37630,"y":0.821,"a":0.77,"b":0.84,"c":0.8,"d":0.832},
{"s":"loc_a1k_vec","x":49870,"y":0.826,"a":0.8,"b":0.845,"c":0.813,"d":0.837},
{"s":"loc_a1k_vec","x":66100,"y":0.823,"a":0.8,"b":0.84,"c":0.812,"d":0.834},
{"s":"loc_a1k_vec","x":87620,"y":0.818,"a":0.795,"b":0.835,"c":0.806,"d":0.828},
{"s":"loc_a1k_vec","x":100900,"y":0.813,"a":0.79,"b":0.83,"c":0.8,"d":0.823},
{"s":"loc_a1k_vec","x":133700,"y":0.807,"a":0.785,"b":0.825,"c":0.795,"d":0.817},
{"s":"loc_a1k_vec","x":177200,"y":0.797,"a":0.77,"b":0.815,"c":0.785,"d":0.807},
{"s":"loc_a1k_vec","x":234900,"y":0.781,"a":0.745,"b":0.8,"c":0.765,"d":0.792},
{"s":"loc_a1k_vec","x":311300,"y":0.781,"a":0.75,"b":0.8,"c":0.765,"d":0.793},
{"s":"loc_a1k_vec","x":412600,"y":0.778,"a":0.74,"b":0.8,"c":0.76,"d":0.79},
{"s":"loc_a1k_vec","x":546900,"y":0.778,"a":0.745,"b":0.8,"c":0.762,"d":0.79},
{"s":"loc_a1k_vec","x":724900,"y":0.773,"a":0.7,"b":0.81,"c":0.745,"d":0.795},
{"s":"loc_a1k_vec","x":960900,"y":0.775,"a":0.745,"b":0.795,"c":0.76,"d":0.787},
{"s":"loc_a1k_vec","x":1274000,"y":0.773,"a":0.745,"b":0.79,"c":0.76,"d":0.784},
{"s":"loc_a1k_vec","x":1688000,"y":0.775,"a":0.75,"b":0.79,"c":0.763,"d":0.785},
{"s":"loc_a1k_vec","x":1943000,"y":0.775,"a":0.755,"b":0.79,"c":0.765,"d":0.785},
{"s":"loc_a1k_vec","x":2237000,"y":0.594,"a":0.575,"b":0.61,"c":0.584,"d":0.603},
{"s":"loc_a1k_vec","x":2966000,"y":0.597,"a":0.575,"b":0.615,"c":0.586,"d":0.606},
{"s":"loc_a1k_vec","x":3931000,"y":0.594,"a":0.573,"b":0.612,"c":0.584,"d":0.603},
{"s":"loc_a1k_vec","x":5210000,"y":0.589,"a":0.568,"b":0.605,"c":0.578,"d":0.598},
{"s":"loc_a1k_vec","x":7950000,"y":0.581,"a":0.56,"b":0.598,"c":0.57,"d":0.59},
{"s":"loc_a1k_vec","x":10540000,"y":0.573,"a":0.553,"b":0.59,"c":0.563,"d":0.582},
{"s":"loc_a1k_vec","x":13970000,"y":0.562,"a":0.545,"b":0.578,"c":0.553,"d":0.57},
{"s":"loc_a1k_vec","x":16080000,"y":0.557,"a":0.54,"b":0.573,"c":0.548,"d":0.565},
{"s":"slw_a1k_spk","x":385,"y":0.064,"a":0.061,"b":0.067,"c":0.0625,"d":0.0655},
{"s":"slw_a1k_spk","x":765,"y":0.13,"a":0.127,"b":0.133,"c":0.1285,"d":0.1315},
{"s":"slw_a1k_spk","x":1123,"y":0.185,"a":0.182,"b":0.188,"c":0.1835,"d":0.1865},
{"s":"slw_a1k_spk","x":1502,"y":0.24,"a":0.237,"b":0.243,"c":0.2385,"d":0.2415},
{"s":"slw_a1k_spk","x":1896,"y":0.283,"a":0.28,"b":0.286,"c":0.2815,"d":0.2845},
{"s":"slw_a1k_spk","x":2283,"y":0.292,"a":0.289,"b":0.295,"c":0.2905,"d":0.2935},
{"s":"slw_a1k_spk","x":10590,"y":0.292,"a":0.289,"b":0.295,"c":0.2905,"d":0.2935},
{"s":"slw_a1k_spk","x":100900,"y":0.292,"a":0.289,"b":0.295,"c":0.2905,"d":0.2935},
{"s":"slw_a1k_spk","x":1943000,"y":0.29,"a":0.287,"b":0.293,"c":0.2885,"d":0.2915},
{"s":"slw_a1k_spk","x":2237000,"y":0.288,"a":0.285,"b":0.291,"c":0.2865,"d":0.2895},
{"s":"slw_a1k_spk","x":2576000,"y":0.286,"a":0.283,"b":0.289,"c":0.2845,"d":0.2875},
{"s":"slw_a1k_spk","x":2966000,"y":0.283,"a":0.28,"b":0.286,"c":0.2815,"d":0.2845},
{"s":"slw_a1k_spk","x":3414000,"y":0.278,"a":0.275,"b":0.281,"c":0.2765,"d":0.2795},
{"s":"slw_a1k_spk","x":3931000,"y":0.272,"a":0.269,"b":0.275,"c":0.2705,"d":0.2735},
{"s":"slw_a1k_spk","x":4525000,"y":0.267,"a":0.264,"b":0.27,"c":0.2655,"d":0.2685},
{"s":"slw_a1k_spk","x":5210000,"y":0.262,"a":0.259,"b":0.265,"c":0.2605,"d":0.2635},
{"s":"slw_a1k_spk","x":5998000,"y":0.258,"a":0.255,"b":0.261,"c":0.2565,"d":0.2595},
{"s":"slw_a1k_spk","x":6905000,"y":0.254,"a":0.251,"b":0.257,"c":0.2525,"d":0.2555},
{"s":"slw_a1k_spk","x":7950000,"y":0.236,"a":0.233,"b":0.239,"c":0.2345,"d":0.2375},
{"s":"slw_a1k_spk","x":9153000,"y":0.23,"a":0.227,"b":0.233,"c":0.2285,"d":0.2315},
{"s":"slw_a1k_spk","x":10540000,"y":0.228,"a":0.225,"b":0.231,"c":0.2265,"d":0.2295},
{"s":"slw_a1k_spk","x":13970000,"y":0.225,"a":0.222,"b":0.228,"c":0.2235,"d":0.2265},
{"s":"slw_a1k_spk","x":16080000,"y":0.223,"a":0.22,"b":0.226,"c":0.2215,"d":0.2245},
{"s":"slw_a1k_vec","x":385,"y":0.06,"a":0.057,"b":0.063,"c":0.0585,"d":0.0615},
{"s":"slw_a1k_vec","x":765,"y":0.072,"a":0.069,"b":0.075,"c":0.0705,"d":0.0735},
{"s":"slw_a1k_vec","x":1123,"y":0.073,"a":0.07,"b":0.076,"c":0.0715,"d":0.0745},
{"s":"slw_a1k_vec","x":100900,"y":0.073,"a":0.07,"b":0.076,"c":0.0715,"d":0.0745},
{"s":"slw_a1k_vec","x":1943000,"y":0.072,"a":0.069,"b":0.075,"c":0.0705,"d":0.0735},
{"s":"slw_a1k_vec","x":5210000,"y":0.071,"a":0.068,"b":0.074,"c":0.0695,"d":0.0725},
{"s":"slw_a1k_vec","x":16080000,"y":0.069,"a":0.066,"b":0.072,"c":0.0675,"d":0.0705}
]},
"layer": [
  {
    "mark": {"type": "area", "fillOpacity": 0.2, "stroke": "black", "strokeOpacity": 0.22, "strokeWidth": 1.5, "clip": true},
    "encoding": {
      "x": {"field": "x", "type": "quantitative", "scale": {"type": "log", "domain": [381, 14680000], "nice": false},
        "axis": {"orient": "bottom", "values": [1000, 10000, 100000, 1000000, 10000000], "tickSize": -8, "labelExpr": "datum.value == 1000 ? '10³' : datum.value == 10000 ? '10⁴' : datum.value == 100000 ? '10⁵' : datum.value == 1000000 ? '10⁶' : '10⁷'", "labelFontSize": 29, "labelPadding": 18, "labelOverlap": false, "title": "XferSize (spikes)", "titleFontSize": 32, "titleY": 66, "titleBaseline": "alphabetic"}},
      "y": {"field": "a", "type": "quantitative", "scale": {"domain": [0, 1], "nice": false, "zero": false},
        "axis": {"orient": "left", "values": [0, 0.2, 0.4, 0.6, 0.8, 1.0], "format": ".1f", "tickSize": -8, "labelFontSize": 28, "labelPadding": 16, "title": "Throughput (norm. bytes)", "titleFontSize": 31, "titleX": -62, "titleY": 313, "titleBaseline": "alphabetic"}},
      "y2": {"field": "b"},
      "color": {"field": "s", "type": "nominal", "scale": {"domain": ["fst_a1k_spk","fst_a33_spk","loc_a1k_spk","slw_a1k_spk","fst_a1k_vec","fst_a33_vec","loc_a1k_vec","slw_a1k_vec"], "range": ["#ff0000","#ff0000","#ff0000","#ff0000","#0000ff","#0000ff","#0000ff","#0000ff"]}, "legend": null}
    }
  },
  {
    "mark": {"type": "area", "fillOpacity": 0.25, "stroke": "black", "strokeOpacity": 0.22, "strokeWidth": 1.5, "clip": true},
    "encoding": {
      "x": {"field": "x", "type": "quantitative", "scale": {"type": "log", "domain": [381, 14680000], "nice": false},
        "axis": {"orient": "bottom", "values": [400,500,600,700,800,900,2000,3000,4000,5000,6000,7000,8000,9000,20000,30000,40000,50000,60000,70000,80000,90000,200000,300000,400000,500000,600000,700000,800000,900000,2000000,3000000,4000000,5000000,6000000,7000000,8000000,9000000], "tickSize": -4, "labels": false, "domain": false, "title": null}},
      "y": {"field": "c", "type": "quantitative", "scale": {"domain": [0, 1], "nice": false, "zero": false}, "axis": null},
      "y2": {"field": "d"},
      "color": {"field": "s", "type": "nominal", "scale": {"domain": ["fst_a1k_spk","fst_a33_spk","loc_a1k_spk","slw_a1k_spk","fst_a1k_vec","fst_a33_vec","loc_a1k_vec","slw_a1k_vec"], "range": ["#ff0000","#ff0000","#ff0000","#ff0000","#0000ff","#0000ff","#0000ff","#0000ff"]}, "legend": null}
    }
  },
  {
    "mark": {"type": "line", "strokeWidth": 1.8, "clip": true},
    "encoding": {
      "x": {"field": "x", "type": "quantitative", "scale": {"type": "log", "domain": [381, 14680000], "nice": false},
        "axis": {"orient": "top", "values": [1000, 10000, 100000, 1000000, 10000000], "tickSize": -8, "labels": false, "domain": true, "title": "×10⁹", "titleFontSize": 30, "titleAngle": 0, "titleAlign": "left", "titleAnchor": "start", "titleX": 2, "titleY": -9, "titleBaseline": "alphabetic"}},
      "y": {"field": "y", "type": "quantitative", "scale": {"domain": [0, 1], "nice": false, "zero": false}, "axis": null},
      "color": {"field": "s", "type": "nominal", "scale": {"domain": ["fst_a1k_spk","fst_a33_spk","loc_a1k_spk","slw_a1k_spk","fst_a1k_vec","fst_a33_vec","loc_a1k_vec","slw_a1k_vec"], "range": ["#ff0000","#ff0000","#ff0000","#ff0000","#0000ff","#0000ff","#0000ff","#0000ff"]}, "legend": null},
      "strokeDash": {"field": "s", "type": "nominal", "scale": {"domain": ["loc_a1k_spk","loc_a1k_vec","slw_a1k_spk","slw_a1k_vec","fst_a1k_spk","fst_a1k_vec","fst_a33_spk","fst_a33_vec"], "range": [[7,5],[7,5],[2,4],[2,4],[1,0],[1,0],[1,0],[1,0]]}, "legend": null}
    }
  },
  {
    "transform": [{"filter": "datum.s == 'fst_a1k_spk' || datum.s == 'fst_a1k_vec'"}],
    "mark": {"type": "point", "shape": "M-1,-1L1,1M1,-1L-1,1", "filled": false, "size": 110, "strokeWidth": 1.2, "opacity": 1, "clip": true},
    "encoding": {
      "x": {"field": "x", "type": "quantitative", "scale": {"type": "log", "domain": [381, 14680000], "nice": false},
        "axis": {"orient": "top", "values": [400,500,600,700,800,900,2000,3000,4000,5000,6000,7000,8000,9000,20000,30000,40000,50000,60000,70000,80000,90000,200000,300000,400000,500000,600000,700000,800000,900000,2000000,3000000,4000000,5000000,6000000,7000000,8000000,9000000], "tickSize": -4, "labels": false, "domain": false, "title": null}},
      "y": {"field": "y", "type": "quantitative", "scale": {"domain": [0, 1], "nice": false, "zero": false}, "axis": null},
      "color": {"field": "s", "type": "nominal", "scale": {"domain": ["fst_a1k_spk","fst_a33_spk","loc_a1k_spk","slw_a1k_spk","fst_a1k_vec","fst_a33_vec","loc_a1k_vec","slw_a1k_vec"], "range": ["#ff0000","#ff0000","#ff0000","#ff0000","#0000ff","#0000ff","#0000ff","#0000ff"]}, "legend": null}
    }
  },
  {
    "transform": [{"filter": "datum.s == 'fst_a33_spk' || datum.s == 'fst_a33_vec'"}],
    "mark": {"type": "point", "shape": "triangle-up", "filled": true, "size": 170, "stroke": "black", "strokeWidth": 1, "opacity": 1, "clip": true},
    "encoding": {
      "x": {"field": "x", "type": "quantitative", "scale": {"type": "log", "domain": [381, 14680000], "nice": false}, "axis": null},
      "y": {"field": "y", "type": "quantitative", "scale": {"domain": [0, 1], "nice": false, "zero": false}, "axis": null},
      "color": {"field": "s", "type": "nominal", "scale": {"domain": ["fst_a1k_spk","fst_a33_spk","loc_a1k_spk","slw_a1k_spk","fst_a1k_vec","fst_a33_vec","loc_a1k_vec","slw_a1k_vec"], "range": ["#ff0000","#ff0000","#ff0000","#ff0000","#0000ff","#0000ff","#0000ff","#0000ff"]}, "legend": null}
    }
  },
  {
    "transform": [{"filter": "datum.x < 0"}],
    "mark": {"type": "point", "filled": true, "opacity": 1},
    "encoding": {
      "x": {"field": "x", "type": "quantitative", "scale": {"type": "log", "domain": [381, 14680000], "nice": false}, "axis": null},
      "y": {"field": "y", "type": "quantitative", "scale": {"domain": [0, 1], "nice": false, "zero": false}, "axis": null},
      "shape": {"field": "s", "type": "nominal", "scale": {"domain": ["fst_a1k_spk","fst_a1k_vec","fst_a33_spk","fst_a33_vec","loc_a1k_spk","loc_a1k_vec","slw_a1k_spk","slw_a1k_vec"], "range": [
        "M-1,0H1M-1.39,-0.39L-0.61,0.39M-1.39,0.39L-0.61,-0.39M0.61,-0.39L1.39,0.39M0.61,0.39L1.39,-0.39",
        "M-1,0H1M-1.39,-0.39L-0.61,0.39M-1.39,0.39L-0.61,-0.39M0.61,-0.39L1.39,0.39M0.61,0.39L1.39,-0.39",
        "M-1,0H1M-1.42,0.3L-0.58,0.3L-1,-0.42ZM0.58,0.3L1.42,0.3L1,-0.42Z",
        "M-1,0H1M-1.42,0.3L-0.58,0.3L-1,-0.42ZM0.58,0.3L1.42,0.3L1,-0.42Z",
        "M-1.16,0H-0.26M0.26,0H1.06",
        "M-1.16,0H-0.26M0.26,0H1.06",
        "M-1.08,0H-0.98M-0.67,0H-0.57M-0.26,0H-0.16M0.16,0H0.26M0.57,0H0.67M0.98,0H1.08",
        "M-1.08,0H-0.98M-0.67,0H-0.57M-0.26,0H-0.16M0.16,0H0.26M0.57,0H0.67M0.98,0H1.08"]},
        "legend": {"title": null, "orient": "top-left", "offset": 10, "padding": 5, "strokeColor": "black", "fillColor": "white", "labelFontSize": 24, "symbolSize": 961, "symbolStrokeWidth": 1.5, "symbolOffset": 10, "labelOffset": 21, "rowPadding": 1.5}},
      "stroke": {"field": "s", "type": "nominal", "scale": {"domain": ["fst_a1k_spk","fst_a1k_vec","fst_a33_spk","fst_a33_vec","loc_a1k_spk","loc_a1k_vec","slw_a1k_spk","slw_a1k_vec"], "range": ["#ff0000","#0000ff","#ff0000","#0000ff","#ff0000","#0000ff","#ff0000","#0000ff"]}, "legend": {"title": null, "orient": "top-left"}},
      "fill": {"field": "s", "type": "nominal", "scale": {"domain": ["fst_a1k_spk","fst_a1k_vec","fst_a33_spk","fst_a33_vec","loc_a1k_spk","loc_a1k_vec","slw_a1k_spk","slw_a1k_vec"], "range": ["transparent","transparent","#ff0000","#0000ff","transparent","transparent","transparent","transparent"]}, "legend": {"title": null, "orient": "top-left"}}
    }
  }
],
"resolve": {"axis": {"x": "independent", "y": "independent"}}
}
